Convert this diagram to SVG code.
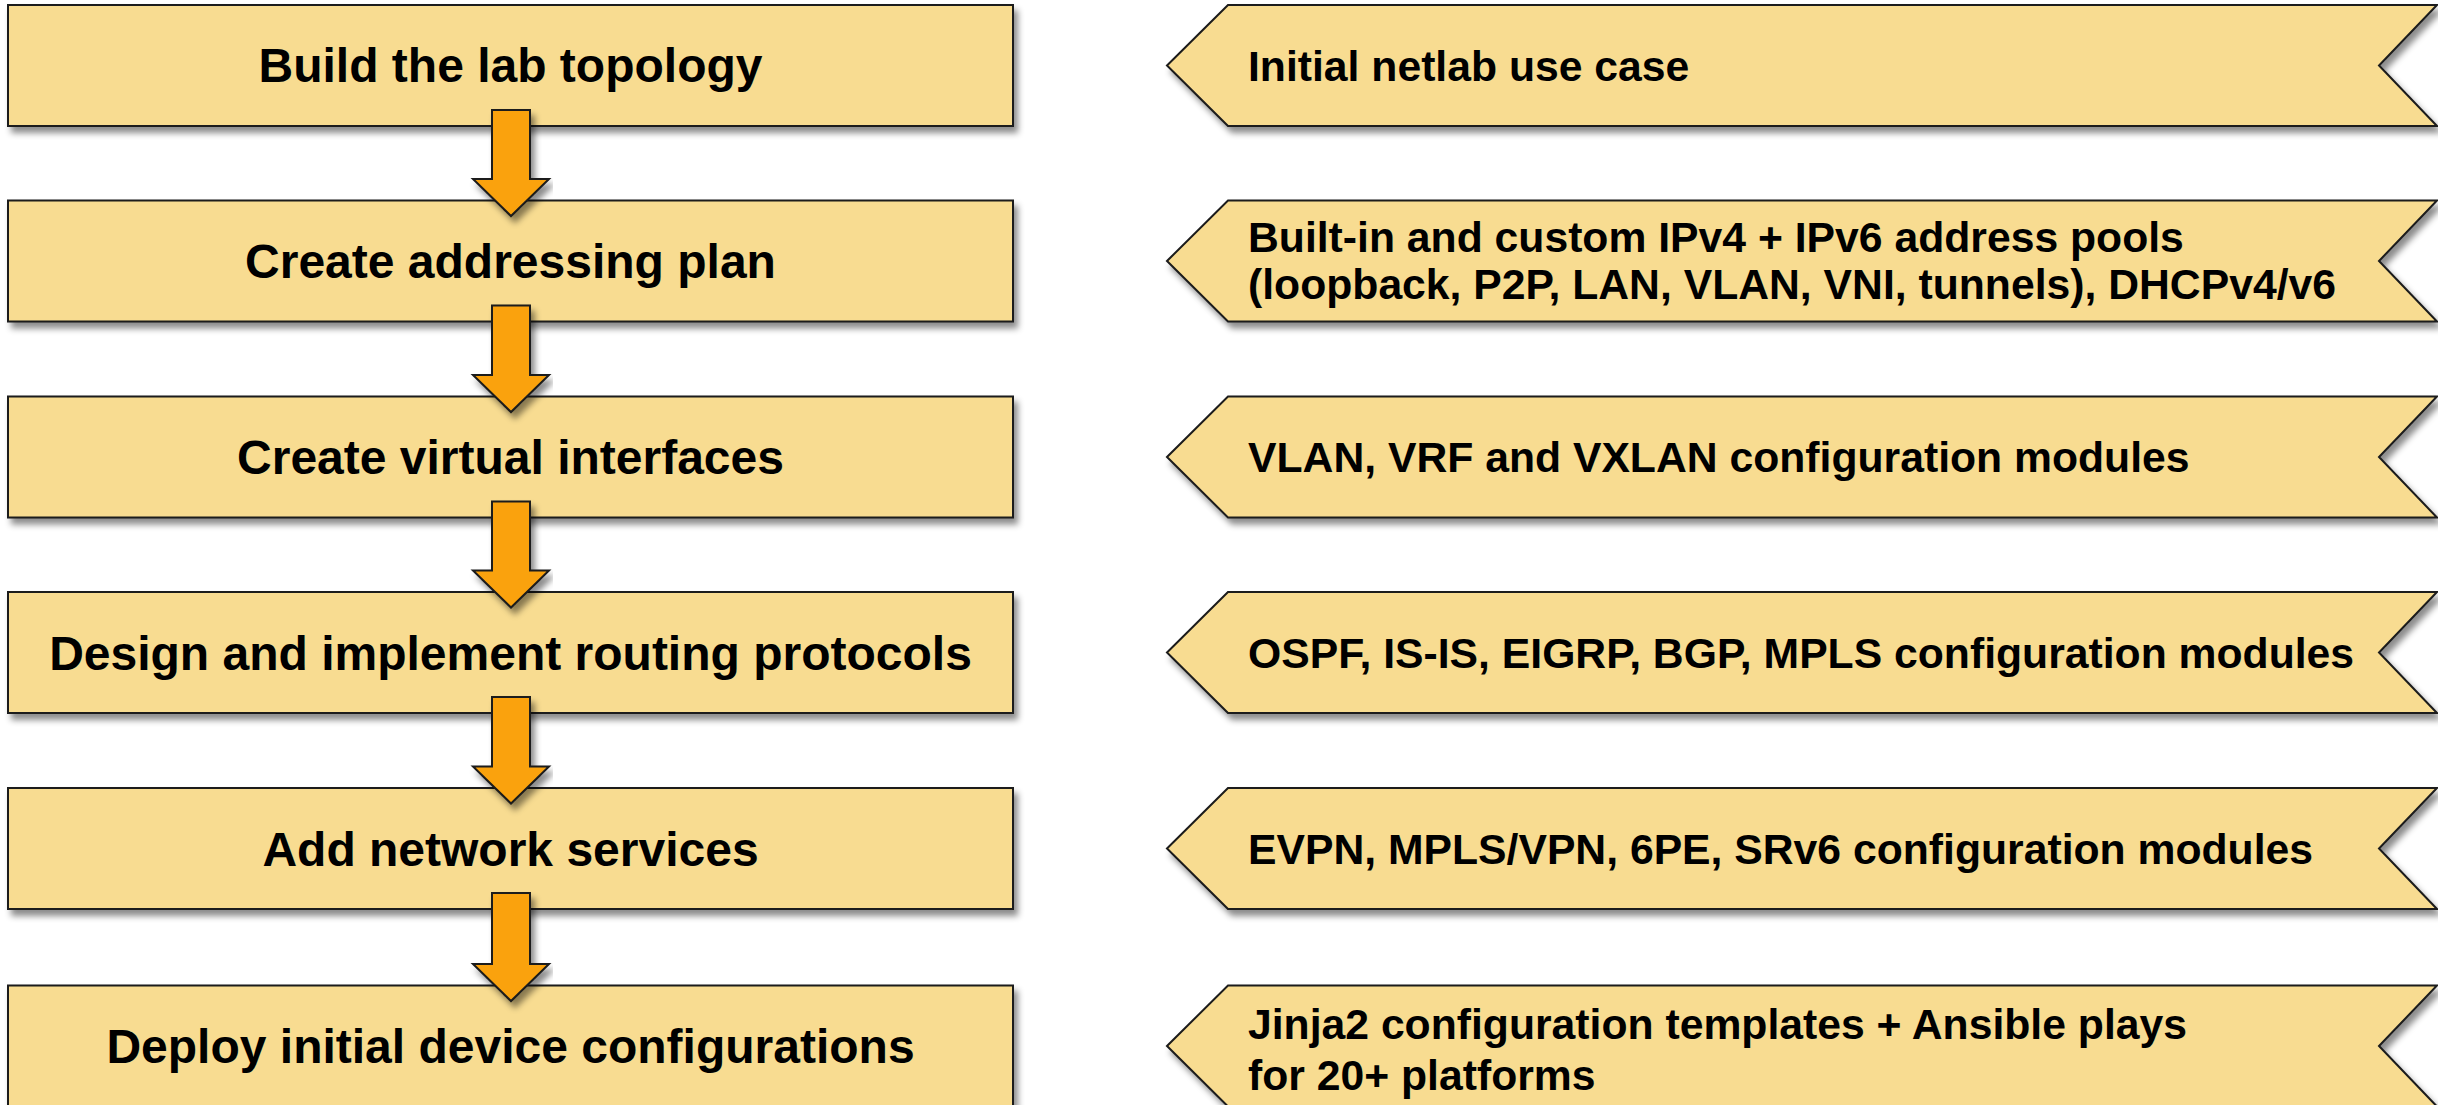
<svg xmlns="http://www.w3.org/2000/svg" width="2438" height="1105" viewBox="0 0 2438 1105">
<defs>
<filter id="sh" x="-5%" y="-20%" width="110%" height="150%">
<feDropShadow dx="4" dy="6" stdDeviation="3" flood-color="#000" flood-opacity="0.45"/>
</filter>
<style>
.box{fill:#F8DC91;stroke:#1a1a1a;stroke-width:2;filter:url(#sh)}
.arr{fill:#FAA20C;stroke:#1a1a1a;stroke-width:2;stroke-linejoin:miter;filter:url(#sh)}
.lt{font-family:"Liberation Sans",Arial,sans-serif;font-weight:bold;font-size:48px;fill:#000;text-anchor:middle}
.rt{font-family:"Liberation Sans",Arial,sans-serif;font-weight:bold;font-size:42.7px;fill:#000}
</style>
</defs>
<rect width="2438" height="1105" fill="#fff"/>

<g id="step1"><rect class="box" x="8" y="5" width="1005" height="121"/><text class="lt" x="510.5" y="82">Build the lab topology</text></g>
<g id="step2"><rect class="box" x="8" y="200.5" width="1005" height="121"/><text class="lt" x="510.5" y="278">Create addressing plan</text></g>
<g id="step3"><rect class="box" x="8" y="396.5" width="1005" height="121"/><text class="lt" x="510.5" y="474">Create virtual interfaces</text></g>
<g id="step4"><rect class="box" x="8" y="592" width="1005" height="121"/><text class="lt" x="510.5" y="669.5">Design and implement routing protocols</text></g>
<g id="step5"><rect class="box" x="8" y="788" width="1005" height="121"/><text class="lt" x="510.5" y="865.5">Add network services</text></g>
<g id="step6"><rect class="box" x="8" y="985.5" width="1005" height="121"/><text class="lt" x="510.5" y="1063">Deploy initial device configurations</text></g>

<g id="note1"><polygon class="box" points="1167,65.5 1228,5 2437,5 2379,65.5 2437,126 1228,126"/><text class="rt" x="1248" y="80.5">Initial netlab use case</text></g>
<g id="note2"><polygon class="box" points="1167,261 1228,200.5 2437,200.5 2379,261 2437,321.5 1228,321.5"/><text class="rt" x="1248" y="252">Built-in and custom IPv4 + IPv6 address pools</text><text class="rt" x="1248" y="299">(loopback, P2P, LAN, VLAN, VNI, tunnels), DHCPv4/v6</text></g>
<g id="note3"><polygon class="box" points="1167,457 1228,396.5 2437,396.5 2379,457 2437,517.5 1228,517.5"/><text class="rt" x="1248" y="472">VLAN, VRF and VXLAN configuration modules</text></g>
<g id="note4"><polygon class="box" points="1167,652.5 1228,592 2437,592 2379,652.5 2437,713 1228,713"/><text class="rt" x="1248" y="667.5">OSPF, IS-IS, EIGRP, BGP, MPLS configuration modules</text></g>
<g id="note5"><polygon class="box" points="1167,848.5 1228,788 2437,788 2379,848.5 2437,909 1228,909"/><text class="rt" x="1248" y="863.5">EVPN, MPLS/VPN, 6PE, SRv6 configuration modules</text></g>
<g id="note6"><polygon class="box" points="1167,1046 1228,985.5 2437,985.5 2379,1046 2437,1106.5 1228,1106.5"/><text class="rt" x="1248" y="1039">Jinja2 configuration templates + Ansible plays</text><text class="rt" x="1248" y="1090">for 20+ platforms</text></g>

<g id="connectors">
<polygon class="arr" points="492,110 530,110 530,179 549,179 511,216 473,179 492,179"/>
<polygon class="arr" points="492,305.5 530,305.5 530,375 549,375 511,412 473,375 492,375"/>
<polygon class="arr" points="492,501.5 530,501.5 530,570.5 549,570.5 511,607.5 473,570.5 492,570.5"/>
<polygon class="arr" points="492,697 530,697 530,766.5 549,766.5 511,803.5 473,766.5 492,766.5"/>
<polygon class="arr" points="492,893 530,893 530,964 549,964 511,1001 473,964 492,964"/>
</g>
</svg>
